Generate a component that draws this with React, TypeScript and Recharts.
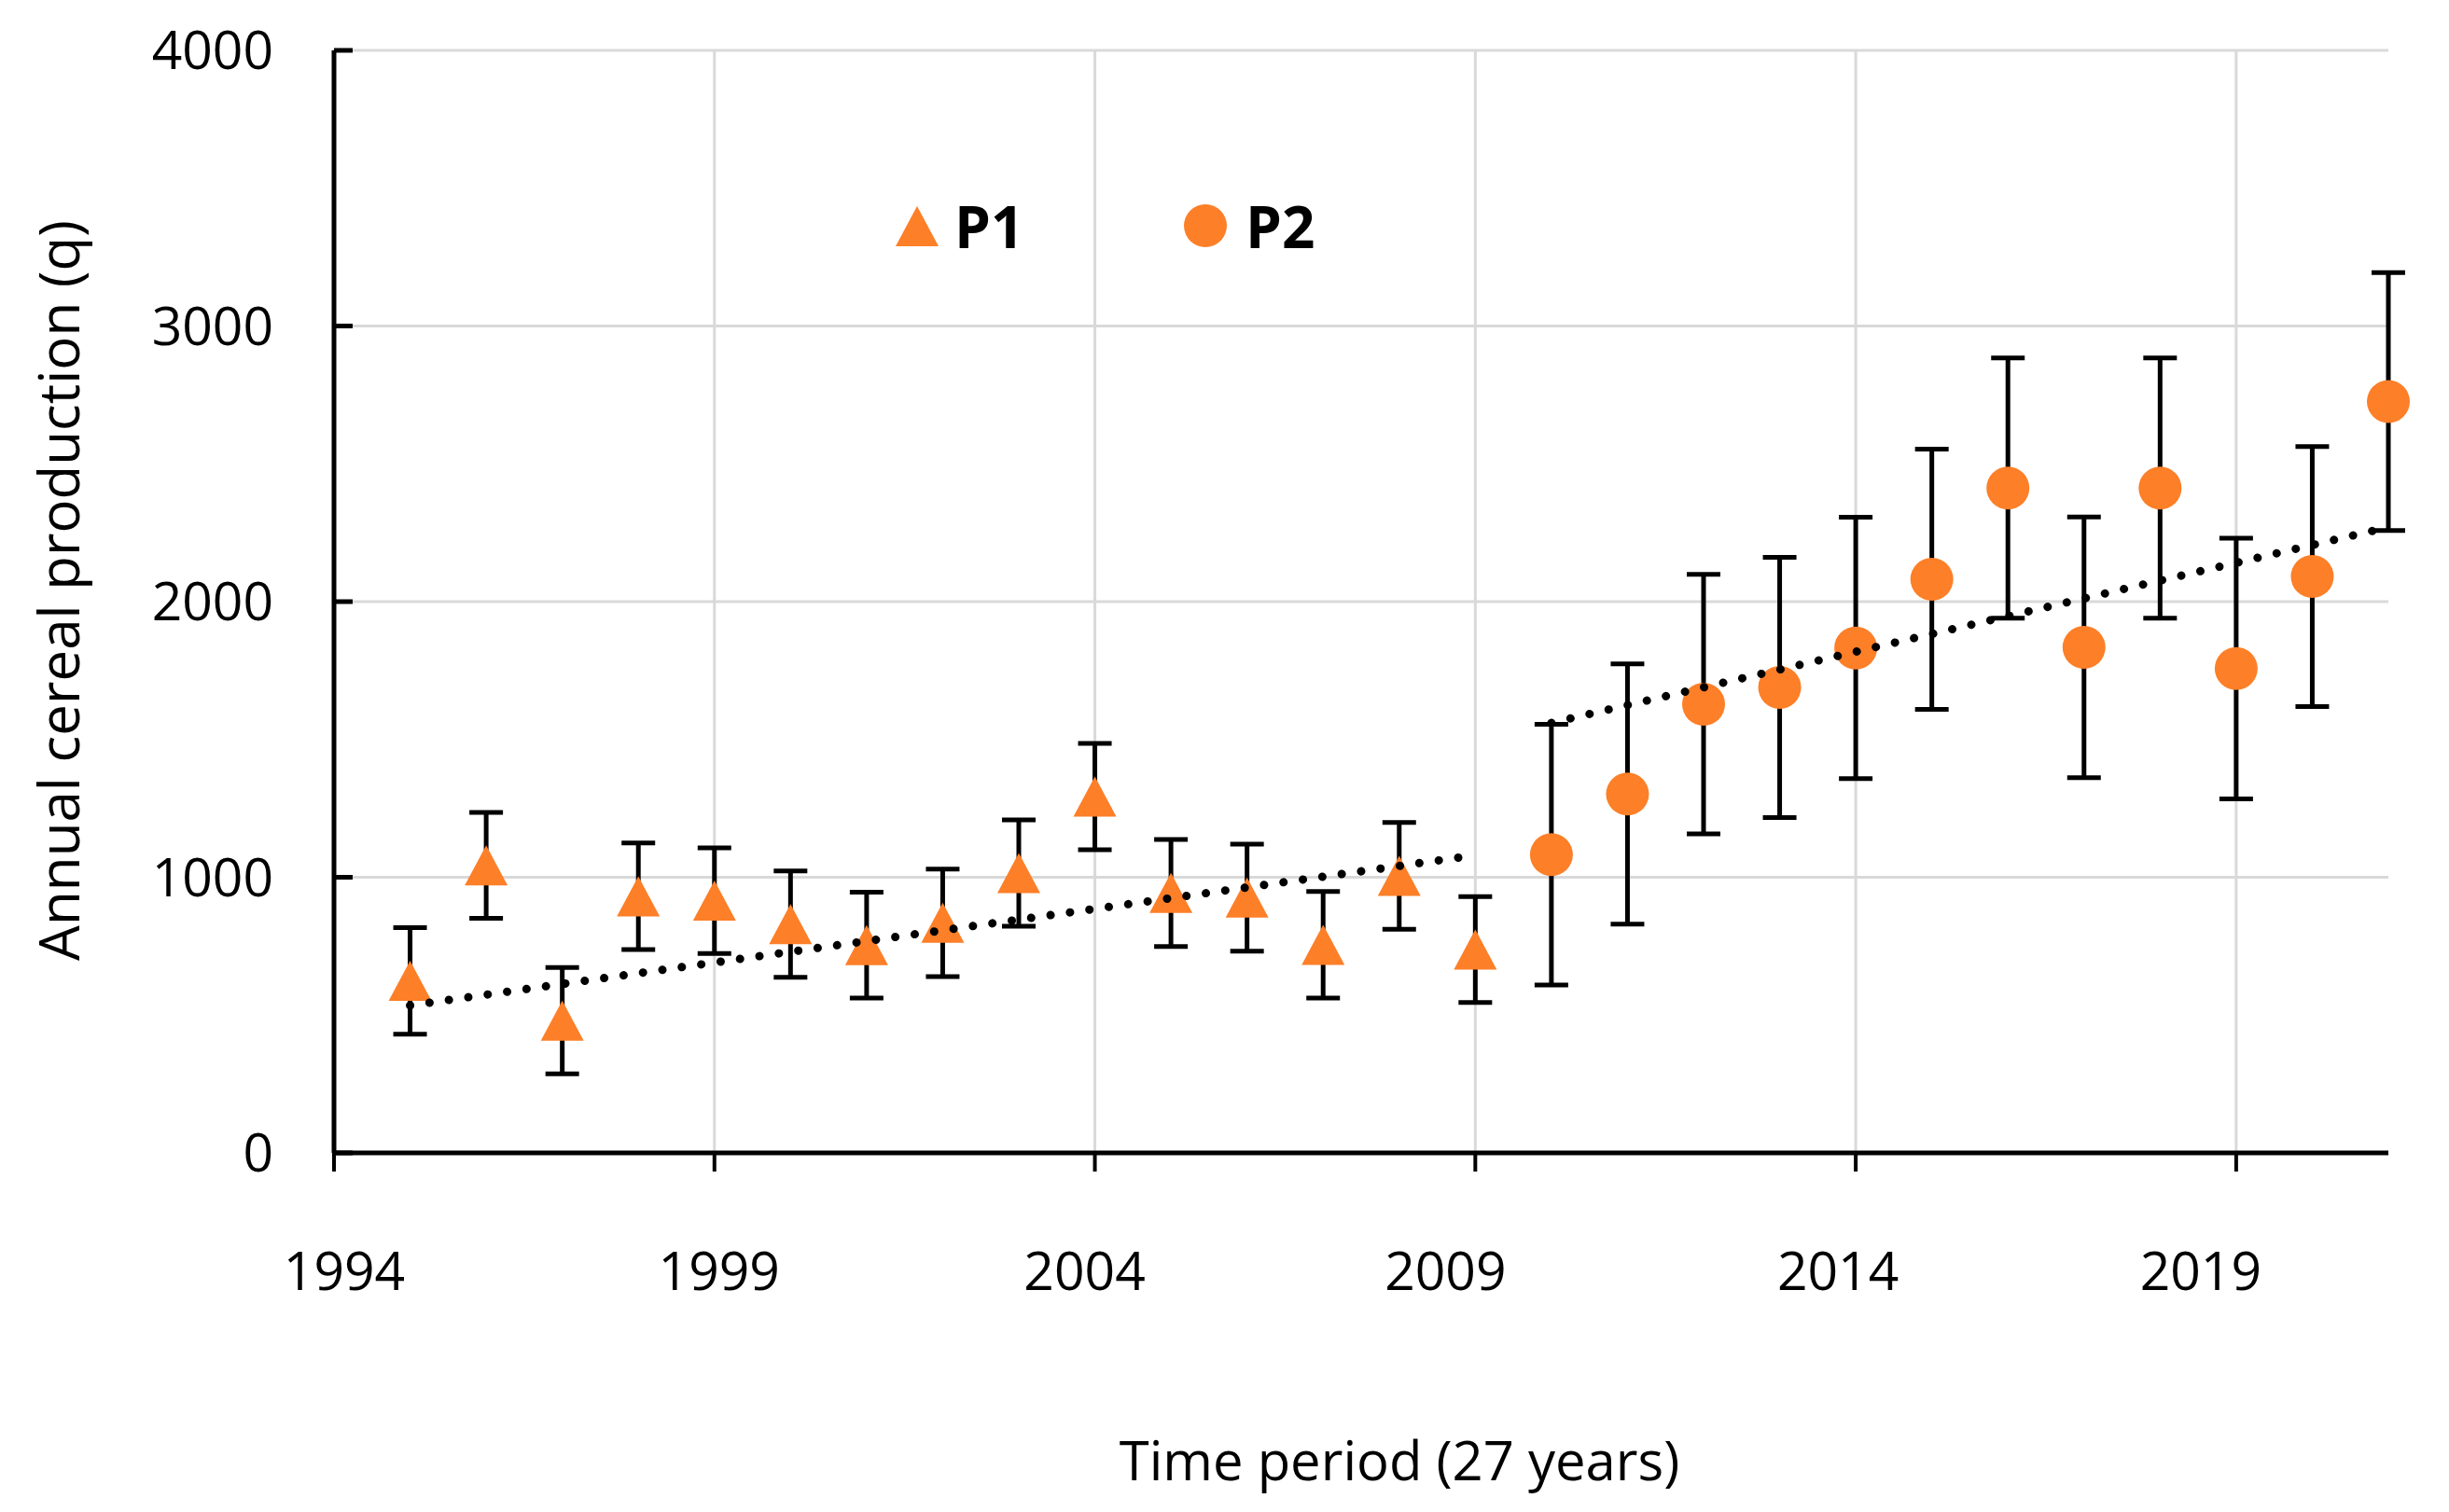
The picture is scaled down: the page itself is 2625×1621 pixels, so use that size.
import React from 'react';
import { ScatterChart, Scatter, XAxis, YAxis, CartesianGrid, ErrorBar, Legend, ReferenceLine } from 'recharts';

// period 1 (triangles)
const p1Years = [1995, 1996, 1997, 1998, 1999, 2000, 2001, 2002, 2003, 2004, 2005, 2006, 2007, 2008, 2009];
const p1Values = [624, 1043, 480, 931, 915, 830, 754, 835, 1015, 1293, 943, 926, 755, 1005, 738];
const p1Errors = [193, 192, 193, 193, 192, 193, 192, 195, 193, 193, 194, 194, 193, 194, 192];

// period 2 (circles)
const p2Years = [2010, 2011, 2012, 2013, 2014, 2015, 2016, 2017, 2018, 2019, 2020, 2021];
const p2Values = [1082, 1302, 1628, 1689, 1832, 2081, 2412, 1834, 2412, 1757, 2091, 2726];
const p2Errors = [473, 472, 471, 472, 474, 472, 472, 473, 472, 473, 472, 468];

// linear trend end points
const trend1Years = [1995, 2009];
const trend1Values = [535, 1080];
const trend2Years = [2010, 2021];
const trend2Values = [1560, 2270];

const xTicks = [1994, 1999, 2004, 2009, 2014, 2019];
const yTicks = [0, 1000, 2000, 3000, 4000];

const ORANGE = '#FD7F28';
const GRID = '#d9d9d9';
const FONT = '"Open Sans", sans-serif';

const p1Data = p1Years.map((year, i) => ({ year, value: p1Values[i], err: p1Errors[i] }));
const p2Data = p2Years.map((year, i) => ({ year, value: p2Values[i], err: p2Errors[i] }));
const trend1Data = trend1Years.map((year, i) => ({ year, value: trend1Values[i] }));
const trend2Data = trend2Years.map((year, i) => ({ year, value: trend2Values[i] }));

// excel placed the year labels a bit unevenly
const xLabelNudge: Record<number, number> = { 1994: 11, 1999: 5, 2004: -11, 2009: -32, 2014: -19, 2019: -38 };

const TriangleShape = (props: any) => {
  const { cx, cy } = props;
  const w = 46;
  const h = 43;
  return <polygon points={`${cx},${cy - h / 2} ${cx + w / 2},${cy + h / 2} ${cx - w / 2},${cy + h / 2}`} fill={ORANGE} />;
};

const CircleShape = (props: any) => <circle cx={props.cx} cy={props.cy} r={23} fill={ORANGE} />;

const NoShape = () => <g />;

const XTick = (props: any) => {
  const { x, y, payload } = props;
  return (
    <text
      x={x + (xLabelNudge[payload.value] || 0)}
      y={y}
      dy="0.71em"
      textAnchor="middle"
      fontFamily={FONT}
      fontSize={57}
      fill="#000"
    >
      {payload.value}
    </text>
  );
};

const renderLegend = (props: any) => {
  const items = (props.payload || []).filter((p: any) => p.type !== 'none');
  return (
    <div style={{ display: 'flex', alignItems: 'center', fontFamily: FONT, fontWeight: 700, fontSize: 62, color: '#000' }}>
      {items.map((item: any, i: number) => (
        <div key={item.value} style={{ display: 'flex', alignItems: 'center', width: i === 0 ? 309 : 200 }}>
          {item.type === 'triangle' ? (
            <svg width={46} height={43}>
              <polygon points="23,0 46,43 0,43" fill={ORANGE} />
            </svg>
          ) : (
            <svg width={46} height={46}>
              <circle cx={23} cy={23} r={23} fill={ORANGE} />
            </svg>
          )}
          <span style={{ marginLeft: i === 0 ? 17 : 20, lineHeight: '74px' }}>{item.value}</span>
        </div>
      ))}
    </div>
  );
};

const trendLine = { stroke: '#000', strokeWidth: 9, strokeDasharray: '0.01 21', strokeLinecap: 'round' };

export default function App() {
  return (
    <div style={{ width: 2625, height: 1621, background: '#fff' }}>
      <style>{'body{margin:0;}'}</style>
      <ScatterChart width={2625} height={1621} margin={{ top: 54, right: 65, bottom: 0, left: 0 }}>
        <CartesianGrid stroke={GRID} strokeWidth={3} vertical={false} />
        {/* vertical grid only at the labelled years */}
        {xTicks.slice(1).map((t) => (
          <ReferenceLine key={t} x={t} stroke={GRID} strokeWidth={3} />
        ))}
        <XAxis
          type="number"
          dataKey="year"
          domain={[1994, 2021]}
          ticks={xTicks}
          height={385}
          axisLine={{ stroke: '#000', strokeWidth: 5 }}
          tickLine={{ stroke: '#000', strokeWidth: 4 }}
          tickSize={20}
          tickMargin={87}
          tick={<XTick />}
          label={{
            value: 'Time period (27 years)',
            position: 'center',
            dx: 41,
            dy: 138,
            style: { fontFamily: FONT, fontSize: 58, fill: '#000' },
          }}
        />
        <YAxis
          type="number"
          dataKey="value"
          domain={[0, 4000]}
          ticks={yTicks}
          width={358}
          axisLine={{ stroke: '#000', strokeWidth: 5 }}
          tickLine={{ stroke: '#000', strokeWidth: 5 }}
          tickSize={-20}
          tickMargin={85}
          tick={{ fontFamily: FONT, fontSize: 57, fill: '#000' }}
          label={{
            value: 'Annual cereal production (q)',
            angle: -90,
            position: 'center',
            dx: -115,
            dy: -12,
            style: { fontFamily: FONT, fontSize: 60, fill: '#000', textAnchor: 'middle' },
          }}
        />
        <Legend
          layout="horizontal"
          verticalAlign="middle"
          align="center"
          content={renderLegend}
          wrapperStyle={{ left: 960, top: 205, width: 700 }}
        />
        <Scatter name="P1" data={p1Data} legendType="triangle" shape={<TriangleShape />} isAnimationActive={false}>
          <ErrorBar dataKey="err" direction="y" width={18} stroke="#000" strokeWidth={5} />
        </Scatter>
        <Scatter name="P2" data={p2Data} legendType="circle" shape={<CircleShape />} isAnimationActive={false}>
          <ErrorBar dataKey="err" direction="y" width={18} stroke="#000" strokeWidth={5} />
        </Scatter>
        <Scatter
          name="trend P1"
          data={trend1Data}
          legendType="none"
          shape={<NoShape />}
          line={trendLine}
          isAnimationActive={false}
        />
        <Scatter
          name="trend P2"
          data={trend2Data}
          legendType="none"
          shape={<NoShape />}
          line={trendLine}
          isAnimationActive={false}
        />
      </ScatterChart>
    </div>
  );
}
